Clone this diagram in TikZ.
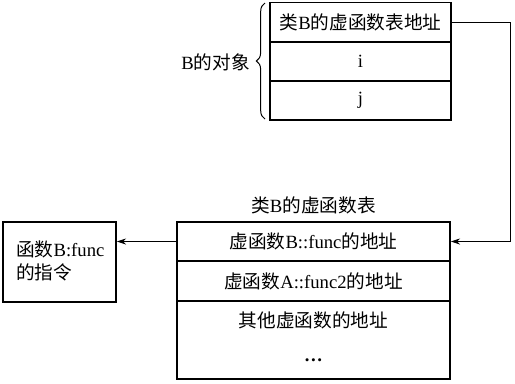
\documentclass[tikz,border=0pt]{standalone}
\usepackage{fontspec}
\setmainfont{Liberation Serif}
\newfontfamily\cjk{Noto Sans CJK SC}
\newcommand{\zh}[1]{{\cjk #1}}
\usetikzlibrary{arrows.meta,decorations.pathreplacing}
\tikzset{
  cell/.style={draw, line width=1.1pt, inner sep=0pt, minimum width=#1},
  lbl/.style={inner sep=0pt, font=\fontsize{14}{17}\selectfont},
  link/.style={line width=0.75pt, -{Stealth[length=7pt,width=4.5pt]}},
}
\begin{document}
\begin{tikzpicture}[x=0.75pt,y=-0.75pt]
\useasboundingbox (0,0) rectangle (515,383);
% B object
\node[cell=181*0.75pt, minimum height=39*0.75pt, lbl] (r1) at (360.5,22) {\zh{类}B\zh{的虚函数表地址}};
\node[cell=181*0.75pt, minimum height=39*0.75pt, lbl] (r2) at (360.5,61.5) {i};
\node[cell=181*0.75pt, minimum height=39*0.75pt, lbl] (r3) at (360.5,100.5) {j};
\draw[line width=0.75pt, decorate, decoration={brace, amplitude=6.5pt}] (265,119) -- (265,3);
\node[lbl, anchor=east] (objl) at (250,62) {B\zh{的对象}};
% vtable
\node[lbl] (vtt) at (313.5,205) {\zh{类}B\zh{的虚函数表}};
\node[cell=273*0.75pt, minimum height=39*0.75pt, lbl] (b1) at (313.5,241.5) {\zh{虚函数}B::func\zh{的地址}};
\node[cell=273*0.75pt, minimum height=40*0.75pt, lbl] (b2) at (313.5,281) {\zh{虚函数}A::func2\zh{的地址}};
\node[cell=273*0.75pt, minimum height=78*0.75pt] (b3) at (313.5,340) {};
\node[lbl] (b3a) at (313.5,320) {\zh{其他虚函数的地址}};
\node[lbl] (b3b) at (313.5,360) {\textbf{\dots}};
% function box
\node[cell=113*0.75pt, minimum height=80*0.75pt] (fb) at (59.5,262) {};
\node[lbl, anchor=west, align=left] (fbt) at (16,261) {\zh{函数}B:func\\\zh{的指令}};
% connectors
\coordinate (turn) at (510,22);
\draw[link] (r1.east) -- (turn) |- (b1.east);
\draw[link] (b1.west) -- (fb.east |- b1.west);
\end{tikzpicture}
\end{document}
